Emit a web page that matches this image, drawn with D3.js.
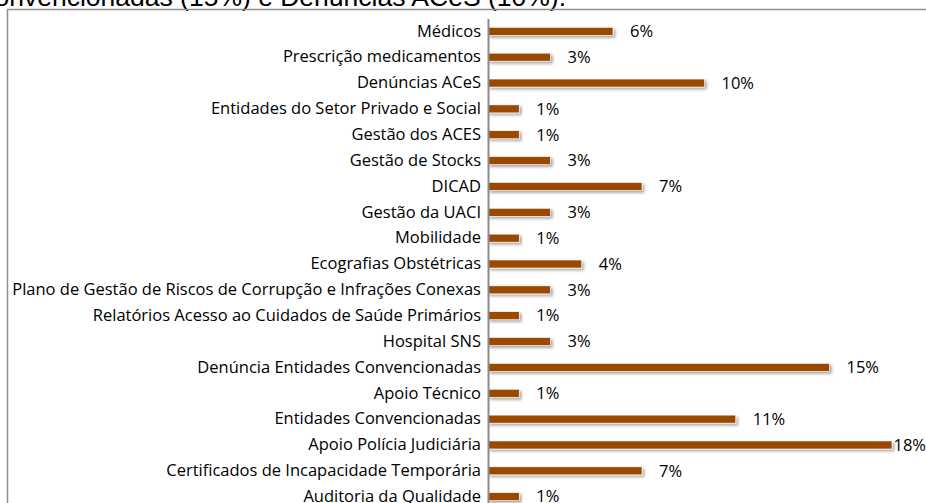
<!DOCTYPE html>
<html>
<head>
<meta charset="utf-8">
<script src="https://cdn.jsdelivr.net/npm/d3@7/dist/d3.min.js"></script>
<style>
  body { margin: 0; background: #fff; }
  svg { display: block; }
  .cat-axis text { font-family: "Open Sans", Lato, sans-serif; font-size: 16.5px; fill: #000; }
  .val-label { font-family: "Open Sans", Lato, sans-serif; font-size: 16.5px; fill: #000; }
  .title { font-family: "Liberation Sans", Arial, sans-serif; font-size: 26.5px; fill: #000; }
</style>
</head>
<body>
<svg id="chart" width="926" height="503"></svg>
<script>
// categories top to bottom
const categories = [
  "Médicos",
  "Prescrição medicamentos",
  "Denúncias ACeS",
  "Entidades do Setor Privado e Social",
  "Gestão dos ACES",
  "Gestão de Stocks",
  "DICAD",
  "Gestão da UACI",
  "Mobilidade ",
  "Ecografias Obstétricas",
  "Plano de Gestão de Riscos de Corrupção e Infrações Conexas",
  "Relatórios Acesso ao Cuidados de Saúde Primários",
  "Hospital SNS",
  "Denúncia Entidades Convencionadas",
  "Apoio Técnico",
  "Entidades Convencionadas",
  "Apoio Polícia Judiciária",
  "Certificados de Incapacidade Temporária",
  "Auditoria da Qualidade"
];
// share of total (%)
const values = [5.6, 2.8, 9.7, 1.4, 1.4, 2.8, 6.9, 2.8, 1.4, 4.2, 2.8, 1.4, 2.8, 15.3, 1.4, 11.1, 18.1, 6.9, 1.4];
const xDomain = [0, 20];
const titleText = "Entidades Convencionadas (15%) e Denúncias ACeS (10%).";

const data = categories.map((c, i) => ({cat: c, value: values[i]}));

const svg = d3.select("#chart");
const W = 926, H = 503;
const axisX = 488;
const plotTop = 18.4, plotBottom = 509.6;

// shadow for the bars
const defs = svg.append("defs");
const f = defs.append("filter").attr("id", "shadow")
  .attr("x", "-5%").attr("y", "-50%").attr("width", "115%").attr("height", "250%");
f.append("feDropShadow")
  .attr("dx", 2).attr("dy", 2).attr("stdDeviation", 1.4)
  .attr("flood-color", "#000").attr("flood-opacity", 0.35);

// title (cut off at the top)
svg.append("text")
  .attr("class", "title")
  .attr("x", 566).attr("y", 5.5)
  .attr("text-anchor", "end")
  .text(titleText);

// chart border
svg.append("rect")
  .attr("x", 7.5).attr("y", 9.5)
  .attr("width", 1000).attr("height", 600)
  .attr("fill", "none")
  .attr("stroke", "#8f8f8f")
  .attr("stroke-width", 1.5);

const xScale = d3.scaleLinear().domain(xDomain).range([axisX, axisX + 446.4]);
const yScale = d3.scaleBand().domain(categories).range([plotTop, plotBottom]).paddingInner(0.69).paddingOuter(0.345);

const g = svg.append("g");

g.selectAll("rect.bar").data(data)
  .enter().append("rect")
  .attr("class", "bar")
  .attr("x", xScale(0))
  .attr("y", d => yScale(d.cat))
  .attr("width", d => xScale(d.value) - xScale(0))
  .attr("height", yScale.bandwidth())
  .attr("fill", "#9c4a06")
  .attr("stroke", "#fff")
  .attr("stroke-width", 0.6)
  .attr("filter", "url(#shadow)");

// category axis
const yAxis = d3.axisLeft(yScale).tickSize(0).tickPadding(7);
const yAxisG = g.append("g")
  .attr("class", "cat-axis")
  .attr("transform", `translate(${axisX}, 0)`)
  .call(yAxis);
yAxisG.select(".domain").attr("stroke", "#8a8a8a").attr("stroke-width", 2);

// value labels
const fmt = d => Math.round(d) + "%";
g.selectAll("text.val-label").data(data)
  .enter().append("text")
  .attr("class", "val-label")
  .attr("x", d => xScale(d.value) + 17)
  .attr("y", d => yScale(d.cat) + yScale.bandwidth() / 2)
  .attr("dy", "0.35em")
  .text(d => fmt(d.value))
  .each(function() {
    // keep labels inside the picture, as the reference does for the longest bar
    const t = d3.select(this);
    const w = this.getComputedTextLength();
    const x = +t.attr("x");
    if (x + w > W) t.attr("x", W - w);
  });
</script>
</body>
</html>
